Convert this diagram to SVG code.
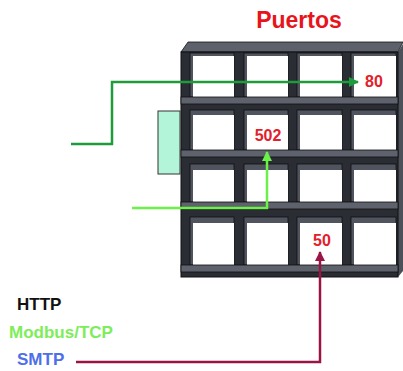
<svg xmlns="http://www.w3.org/2000/svg" width="403" height="371" viewBox="0 0 403 371">
  <style>
    .lbl { font-family: "Liberation Sans", Arial, sans-serif; font-weight: bold; }
    .port { fill: #e3202a; font-size: 16px; text-anchor: middle; }
    .frame { fill: #2b2d34; stroke: #111; stroke-width: 1; }
    .lip { fill: #50545e; stroke: #111; stroke-width: 0.8; }
    .cell { fill: #ffffff; }
    .band { fill: #5e626c; stroke: #111; stroke-width: 0.8; }
    .conn { fill: none; stroke-width: 2.5; stroke-linejoin: miter; }
  </style>
  <defs>
    <marker id="ahHttp" viewBox="0 0 10 10" refX="9" refY="5" markerWidth="4" markerHeight="4" orient="auto">
      <path d="M0,0 L10,5 L0,10 z" fill="#1e9b3a"/>
    </marker>
    <marker id="ahModbus" viewBox="0 0 10 10" refX="9" refY="5" markerWidth="4" markerHeight="4" orient="auto">
      <path d="M0,0 L10,5 L0,10 z" fill="#6cf04a"/>
    </marker>
    <marker id="ahSmtp" viewBox="0 0 10 10" refX="9" refY="5" markerWidth="4" markerHeight="4" orient="auto">
      <path d="M0,0 L10,5 L0,10 z" fill="#9b1446"/>
    </marker>
  </defs>

  <!-- title -->
  <text class="lbl" x="299" y="28" font-size="23" fill="#e8141c" text-anchor="middle">Puertos</text>

  <!-- port rack -->
  <g id="rack">
    <polygon points="181,52 188,42 403,42 398,52" fill="#5d616b" stroke="#111" stroke-width="0.8"/>
    <polygon points="398,52 403,44 403,271 398,277" fill="#4c5059"/>
    <rect class="frame" x="181" y="52" width="217" height="225"/>

    <!-- row 1 -->
    <rect class="lip" x="190" y="53" width="44" height="44"/>
    <rect class="lip" x="244" y="53" width="44" height="44"/>
    <rect class="lip" x="297" y="53" width="45" height="44"/>
    <rect class="lip" x="351" y="53" width="45" height="44"/>
    <rect class="cell" x="193" y="56" width="41" height="41"/>
    <rect class="cell" x="247" y="56" width="41" height="41"/>
    <rect class="cell" x="300" y="56" width="42" height="41"/>
    <rect class="cell" x="354" y="56" width="42" height="41"/>
    <rect class="band" x="181" y="97" width="217" height="7"/>

    <!-- row 2 -->
    <rect class="lip" x="190" y="110" width="44" height="40"/>
    <rect class="lip" x="244" y="110" width="44" height="40"/>
    <rect class="lip" x="297" y="110" width="45" height="40"/>
    <rect class="lip" x="351" y="110" width="45" height="40"/>
    <rect class="cell" x="193" y="115" width="41" height="35"/>
    <rect class="cell" x="247" y="115" width="41" height="35"/>
    <rect class="cell" x="300" y="115" width="42" height="35"/>
    <rect class="cell" x="354" y="115" width="42" height="35"/>
    <rect class="band" x="181" y="150" width="217" height="7"/>

    <!-- row 3 -->
    <rect class="lip" x="190" y="164" width="44" height="38"/>
    <rect class="lip" x="244" y="164" width="44" height="38"/>
    <rect class="lip" x="297" y="164" width="45" height="38"/>
    <rect class="lip" x="351" y="164" width="45" height="38"/>
    <rect class="cell" x="193" y="170" width="41" height="32"/>
    <rect class="cell" x="247" y="170" width="41" height="32"/>
    <rect class="cell" x="300" y="170" width="42" height="32"/>
    <rect class="cell" x="354" y="170" width="42" height="32"/>
    <rect class="band" x="181" y="202" width="217" height="7"/>

    <!-- row 4 -->
    <rect class="lip" x="190" y="217" width="44" height="48"/>
    <rect class="lip" x="244" y="217" width="44" height="48"/>
    <rect class="lip" x="297" y="217" width="45" height="48"/>
    <rect class="lip" x="351" y="217" width="45" height="48"/>
    <rect class="cell" x="193" y="223" width="41" height="42"/>
    <rect class="cell" x="247" y="223" width="41" height="42"/>
    <rect class="cell" x="300" y="223" width="42" height="42"/>
    <rect class="cell" x="354" y="223" width="42" height="42"/>
    <rect class="band" x="181" y="265" width="217" height="7"/>
  </g>

  <!-- side connector block -->
  <g id="socket">
    <rect x="158" y="111" width="22" height="63" fill="#b3f5d9" stroke="#333" stroke-width="1"/>
  </g>

  <!-- port numbers -->
  <g id="port80"><text class="lbl port" x="374" y="87">80</text></g>
  <g id="port502"><text class="lbl port" x="268" y="141">502</text></g>
  <g id="port50"><text class="lbl port" x="322" y="246">50</text></g>

  <!-- connectors -->
  <g id="connectors">
    <polyline class="conn" stroke="#1e9b3a" points="71,144 112,144 112,82 358,82" marker-end="url(#ahHttp)"/>
    <polyline class="conn" stroke="#6cf04a" points="132,208 267,208 267,152" marker-end="url(#ahModbus)"/>
    <polyline class="conn" stroke="#9b1446" points="76,362 320,362 320,252" marker-end="url(#ahSmtp)"/>
  </g>

  <!-- legend -->
  <g id="legend">
    <text class="lbl" x="17" y="310" font-size="17" fill="#111">HTTP</text>
    <text class="lbl" x="9" y="338" font-size="17" fill="#7ded5a">Modbus/TCP</text>
    <text class="lbl" x="17" y="365" font-size="17" fill="#4f6fe8">SMTP</text>
  </g>
</svg>
